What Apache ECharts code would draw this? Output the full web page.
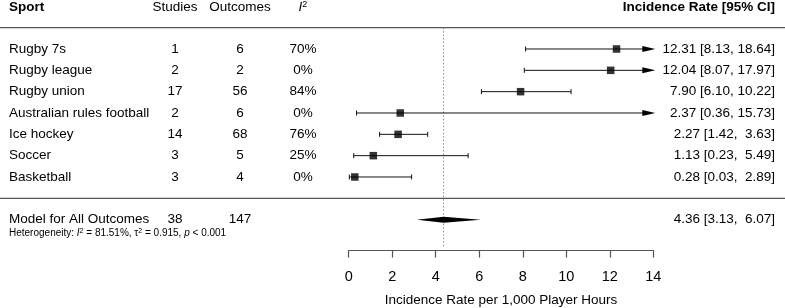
<!DOCTYPE html>
<html>
<head>
<meta charset="utf-8">
<script src="https://cdn.jsdelivr.net/npm/echarts@6/dist/echarts.min.js"></script>
<style>
html,body{margin:0;padding:0;background:#fff;}
#forest{width:785px;height:308px;}
</style>
</head>
<body>
<div id="forest"></div>
<script>
// data
var sports = ['Rugby 7s', 'Rugby league', 'Rugby union', 'Australian rules football', 'Ice hockey', 'Soccer', 'Basketball'];
var studies = [1, 2, 17, 2, 14, 3, 3];
var outcomes = [6, 2, 56, 6, 68, 5, 4];
var i2 = ['70%', '0%', '84%', '0%', '76%', '25%', '0%'];
var rate = [12.31, 12.04, 7.90, 2.37, 2.27, 1.13, 0.28];
var lower = [8.13, 8.07, 6.10, 0.36, 1.42, 0.23, 0.03];
var upper = [18.64, 17.97, 10.22, 15.73, 3.63, 5.49, 2.89];

var modelName = 'Model for All Outcomes';
var modelStudies = 38;
var modelOutcomes = 147;
var modelRate = 4.36;
var modelLower = 3.13;
var modelUpper = 6.07;
var heterogeneity = 'Heterogeneity: {i|I}{s|2} = 81.51%, τ{s|2} = 0.915, {i|p} < 0.001';

var xMin = 0, xMax = 14, xStep = 2;

// layout bits
var FONT = '"Liberation Sans", Arial, sans-serif';
var FS = 13.5;
var colX = {sport: 9, studies: 175, outcomes: 240, i2: 303, ci: 775};
var modelRow = 8;

function fmt(v) { return v.toFixed(2); }
function pad(s, n) { while (s.length < n) s = ' ' + s; return s; }
function ciText(r, l, u) { return fmt(r) + ' [' + fmt(l) + ', ' + pad(fmt(u), 5) + ']'; }

var rows = sports.map(function (s, i) { return i; });

function txt(str, x, y, align, extra) {
    var st = {
        text: str, x: x, y: y,
        textAlign: align, align: align,
        textVerticalAlign: 'middle', verticalAlign: 'middle',
        fill: '#000', fontSize: FS, fontFamily: FONT
    };
    for (var k in extra) st[k] = extra[k];
    return {type: 'text', style: st};
}

var supRich = {
    i: {fontStyle: 'italic', fontSize: FS, fontFamily: FONT, fill: '#000'},
    s: {fontSize: 9, fontFamily: FONT, fill: '#000', verticalAlign: 'top', padding: [0, 0, 6, 0]}
};
var hetRich = {
    i: {fontStyle: 'italic', fontSize: 10, fontFamily: FONT, fill: '#000'},
    s: {fontSize: 7, fontFamily: FONT, fill: '#000', verticalAlign: 'top', padding: [0, 0, 4, 0]}
};

var myChart = echarts.init(document.getElementById('forest'), null, {renderer: 'canvas'});

myChart.setOption({
    animation: false,
    backgroundColor: '#fff',
    grid: {left: 348.7, right: 131.7, top: 6.33, bottom: 57.4, containLabel: false, outerBoundsMode: 'none'},
    xAxis: {
        type: 'value', min: xMin, max: xMax, interval: xStep,
        axisLine: {onZero: false, lineStyle: {color: '#555', width: 1.2}},
        axisTick: {length: 7, lineStyle: {color: '#555', width: 1.2}},
        axisLabel: {color: '#000', fontSize: 14.5, fontFamily: FONT, margin: 19},
        splitLine: {show: false},
        name: 'Incidence Rate per 1,000 Player Hours',
        nameLocation: 'middle', nameGap: 43,
        nameTextStyle: {color: '#000', fontSize: FS, fontFamily: FONT}
    },
    yAxis: {type: 'value', min: -2, max: 9.45, inverse: true, show: false},
    series: [
        // table text + rules
        {
            type: 'custom', clip: false, silent: true,
            data: [[0, -2]],
            renderItem: function (params, api) {
                var yh = api.coord([0, -1.95])[1];
                var yr1 = api.coord([0, -1])[1];
                var yr2 = api.coord([0, 7])[1];
                var ch = [];
                ch.push({type: 'line', shape: {x1: 0, y1: yr1, x2: 785, y2: yr1}, style: {stroke: '#555', lineWidth: 1.3}});
                ch.push({type: 'line', shape: {x1: 0, y1: yr2, x2: 785, y2: yr2}, style: {stroke: '#555', lineWidth: 1.3}});
                ch.push(txt('Sport', colX.sport, yh, 'left', {fontWeight: 'bold'}));
                ch.push(txt('Studies', colX.studies, yh, 'center'));
                ch.push(txt('Outcomes', colX.outcomes, yh, 'center'));
                ch.push(txt('{i|I}{s|2}', colX.i2, yh, 'center', {rich: supRich}));
                ch.push(txt('Incidence Rate [95% CI]', colX.ci, yh, 'right', {fontWeight: 'bold'}));
                rows.forEach(function (i) {
                    var y = api.coord([0, i])[1];
                    ch.push(txt(sports[i], colX.sport, y, 'left'));
                    ch.push(txt(String(studies[i]), colX.studies, y, 'center'));
                    ch.push(txt(String(outcomes[i]), colX.outcomes, y, 'center'));
                    ch.push(txt(i2[i], colX.i2, y, 'center'));
                    ch.push(txt(ciText(rate[i], lower[i], upper[i]), colX.ci, y, 'right'));
                });
                var ym = api.coord([0, modelRow])[1];
                ch.push(txt(modelName, colX.sport, ym, 'left'));
                ch.push(txt(String(modelStudies), colX.studies, ym, 'center'));
                ch.push(txt(String(modelOutcomes), colX.outcomes, ym, 'center'));
                ch.push(txt(ciText(modelRate, modelLower, modelUpper), colX.ci, ym, 'right'));
                var yhet = api.coord([0, modelRow + 0.65])[1];
                ch.push(txt(heterogeneity, colX.sport, yhet, 'left', {fontSize: 10, rich: hetRich}));
                return {type: 'group', children: ch};
            }
        },
        // reference line at model estimate
        {
            type: 'custom', clip: false, silent: true,
            data: [[modelRate, -1, 9.28]],
            renderItem: function (params, api) {
                var a = api.coord([api.value(0), api.value(1)]);
                var b = api.coord([api.value(0), api.value(2)]);
                return {type: 'line', shape: {x1: a[0], y1: a[1], x2: b[0], y2: b[1]},
                    style: {stroke: '#888', lineWidth: 1, lineDash: [1.5, 2]}};
            }
        },
        // confidence intervals
        {
            type: 'custom', clip: false, silent: true,
            data: rows.map(function (i) { return [lower[i], upper[i], i]; }),
            encode: {x: [0, 1], y: 2},
            renderItem: function (params, api) {
                var lo = api.value(0), hi = api.value(1), row = api.value(2);
                var p0 = api.coord([lo, row]);
                var p1 = api.coord([Math.min(hi, xMax), row]);
                var y = p0[1];
                var ch = [];
                var arrow = hi > xMax;
                var end = arrow ? p1[0] - 10 : p1[0];
                ch.push({type: 'line', shape: {x1: p0[0], y1: y, x2: end, y2: y}, style: {stroke: '#111', lineWidth: 1}});
                ch.push({type: 'line', shape: {x1: p0[0], y1: y - 2.5, x2: p0[0], y2: y + 2.5}, style: {stroke: '#111', lineWidth: 1}});
                if (arrow) {
                    ch.push({type: 'polygon', shape: {points: [[p1[0] + 2, y], [p1[0] - 11, y - 3], [p1[0] - 11, y + 3]]}, style: {fill: '#000'}});
                } else {
                    ch.push({type: 'line', shape: {x1: p1[0], y1: y - 2.5, x2: p1[0], y2: y + 2.5}, style: {stroke: '#111', lineWidth: 1}});
                }
                return {type: 'group', children: ch};
            }
        },
        // point estimates
        {
            type: 'scatter', silent: true,
            symbol: 'rect', symbolSize: 7.5,
            itemStyle: {color: '#000'},
            data: rows.map(function (i) { return [rate[i], i]; })
        },
        // summary diamond
        {
            type: 'custom', clip: false, silent: true,
            data: [[modelLower, modelRate, modelUpper, modelRow]],
            encode: {x: [0, 1, 2], y: 3},
            renderItem: function (params, api) {
                var row = api.value(3);
                var l = api.coord([api.value(0), row]);
                var m = api.coord([api.value(1), row]);
                var u = api.coord([api.value(2), row]);
                return {type: 'polygon', shape: {points: [[l[0], l[1]], [m[0], m[1] - 3], [u[0], u[1]], [m[0], m[1] + 3]]}, style: {fill: '#000'}};
            }
        }
    ]
});
</script>
</body>
</html>
